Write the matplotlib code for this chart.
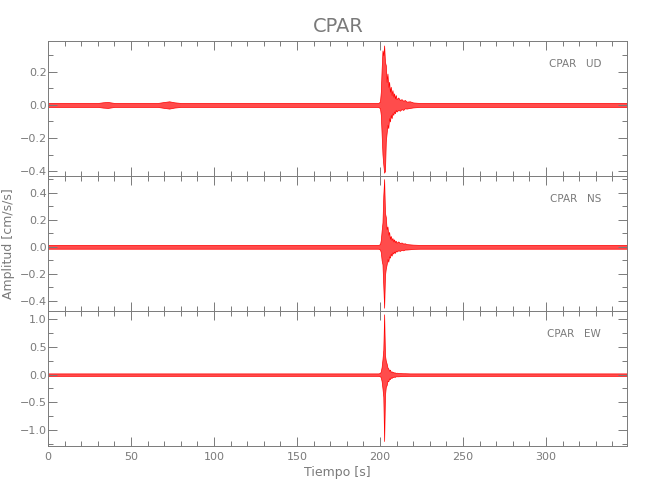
import numpy as np
import matplotlib.pyplot as plt
from matplotlib.ticker import MultipleLocator

plt.rcParams['font.family'] = ['DejaVu Sans']

t_env = [0, 30, 33, 36, 40, 66, 70, 73, 76, 80, 195,
         199, 200, 200.5, 201, 201.5, 202, 202.5, 203, 203.5, 204, 204.5,
         205, 205.5, 206, 206.5, 207, 207.5, 208, 208.5, 209, 209.5, 210,
         211, 212, 213, 214, 215, 216, 218, 220, 224,
         350]

ud_up = [0.012, 0.012, 0.016, 0.018, 0.012, 0.012, 0.018, 0.022, 0.016, 0.012, 0.012,
         0.012, 0.02, 0.08, 0.22, 0.33, 0.30, 0.36, 0.26, 0.24, 0.14, 0.19,
         0.11, 0.14, 0.08, 0.11, 0.06, 0.09, 0.05, 0.07, 0.04, 0.06, 0.035,
         0.045, 0.03, 0.035, 0.025, 0.03, 0.02, 0.022, 0.015, 0.012,
         0.012]
ud_lo = [-0.012, -0.012, -0.016, -0.018, -0.012, -0.012, -0.018, -0.022, -0.016, -0.012, -0.012,
         -0.012, -0.02, -0.06, -0.18, -0.30, -0.36, -0.41, -0.40, -0.22, -0.17, -0.12,
         -0.14, -0.08, -0.10, -0.06, -0.08, -0.05, -0.06, -0.04, -0.05, -0.03, -0.04,
         -0.03, -0.035, -0.025, -0.03, -0.02, -0.022, -0.018, -0.015, -0.012,
         -0.012]

ns_up = [0.014] * 11 + \
        [0.014, 0.02, 0.05, 0.12, 0.18, 0.38, 0.50, 0.25, 0.22, 0.13, 0.15,
         0.09, 0.11, 0.06, 0.08, 0.05, 0.065, 0.04, 0.055, 0.035, 0.045, 0.03,
         0.04, 0.028, 0.032, 0.024, 0.026, 0.02, 0.018, 0.016, 0.014,
         0.014]
ns_lo = [-0.014] * 11 + \
        [-0.014, -0.02, -0.04, -0.10, -0.13, -0.29, -0.45, -0.21, -0.16, -0.13, -0.09,
         -0.11, -0.07, -0.08, -0.05, -0.065, -0.04, -0.05, -0.035, -0.045, -0.03, -0.035,
         -0.026, -0.03, -0.022, -0.026, -0.02, -0.02, -0.018, -0.015, -0.014,
         -0.014]

ew_up = [0.022] * 11 + \
        [0.022, 0.03, 0.06, 0.14, 0.28, 0.45, 1.09, 0.35, 0.25, 0.20, 0.13,
         0.11, 0.07, 0.09, 0.05, 0.06, 0.04, 0.05, 0.035, 0.04, 0.03, 0.035,
         0.03, 0.028, 0.026, 0.025, 0.025, 0.024, 0.022, 0.022, 0.022,
         0.022]
ew_lo = [-0.022] * 11 + \
        [-0.022, -0.03, -0.05, -0.12, -0.25, -0.40, -1.20, -0.37, -0.22, -0.19, -0.11,
         -0.12, -0.07, -0.08, -0.05, -0.06, -0.04, -0.045, -0.035, -0.04, -0.03, -0.03,
         -0.03, -0.028, -0.026, -0.025, -0.025, -0.024, -0.022, -0.022, -0.022,
         -0.022]

components = ["UD", "NS", "EW"]
uppers = [ud_up, ns_up, ew_up]
lowers = [ud_lo, ns_lo, ew_lo]
ylims = [(-0.43, 0.387), (-0.474, 0.523), (-1.29, 1.15)]
ysteps = [(0.2, 0.1), (0.2, 0.1), (0.5, 0.25)]

gray = "#7a7a7a"

fig = plt.figure(figsize=(6.5, 5), dpi=100)
gs = fig.add_gridspec(3, 1, left=0.074, right=0.965, top=0.918, bottom=0.108, hspace=0)

t = np.array(t_env)
axes = []
for i, comp in enumerate(components):
    ax = fig.add_subplot(gs[i])
    up = np.array(uppers[i])
    lo = np.array(lowers[i])
    ax.fill_between(t, lo, up, facecolor=(1, 0, 0, 0.7), edgecolor="red", lw=0.5)
    ax.set_xlim(0, 349)
    ax.set_ylim(*ylims[i])
    ax.xaxis.set_major_locator(MultipleLocator(50))
    ax.xaxis.set_minor_locator(MultipleLocator(10))
    ax.yaxis.set_major_locator(MultipleLocator(ysteps[i][0]))
    ax.yaxis.set_minor_locator(MultipleLocator(ysteps[i][1]))
    ax.tick_params(which="both", direction="in", top=True, right=True,
                   color=gray, labelcolor=gray, labelsize=8, pad=1)
    ax.tick_params(which="major", length=6.5, width=0.7)
    ax.tick_params(which="minor", length=3.5, width=0.7)
    for s in ax.spines.values():
        s.set_color(gray)
        s.set_linewidth(0.7)
    ax.text(0.955, 0.83, "CPAR   " + comp, transform=ax.transAxes,
            ha="right", va="center", fontsize=7.5, color=gray)
    if i < 2:
        ax.tick_params(labelbottom=False)
    axes.append(ax)

axes[2].tick_params(axis="x", pad=4)
axes[2].set_xlabel("Tiempo [s]", color=gray, fontsize=9, labelpad=3)
axes[1].set_ylabel("Amplitud [cm/s/s]", color=gray, fontsize=9)
axes[1].yaxis.set_label_coords(-0.058, 0.5)
fig.suptitle("CPAR", x=0.52, y=0.965, color=gray, fontsize=14)

fig.savefig("out.png", dpi=100)
